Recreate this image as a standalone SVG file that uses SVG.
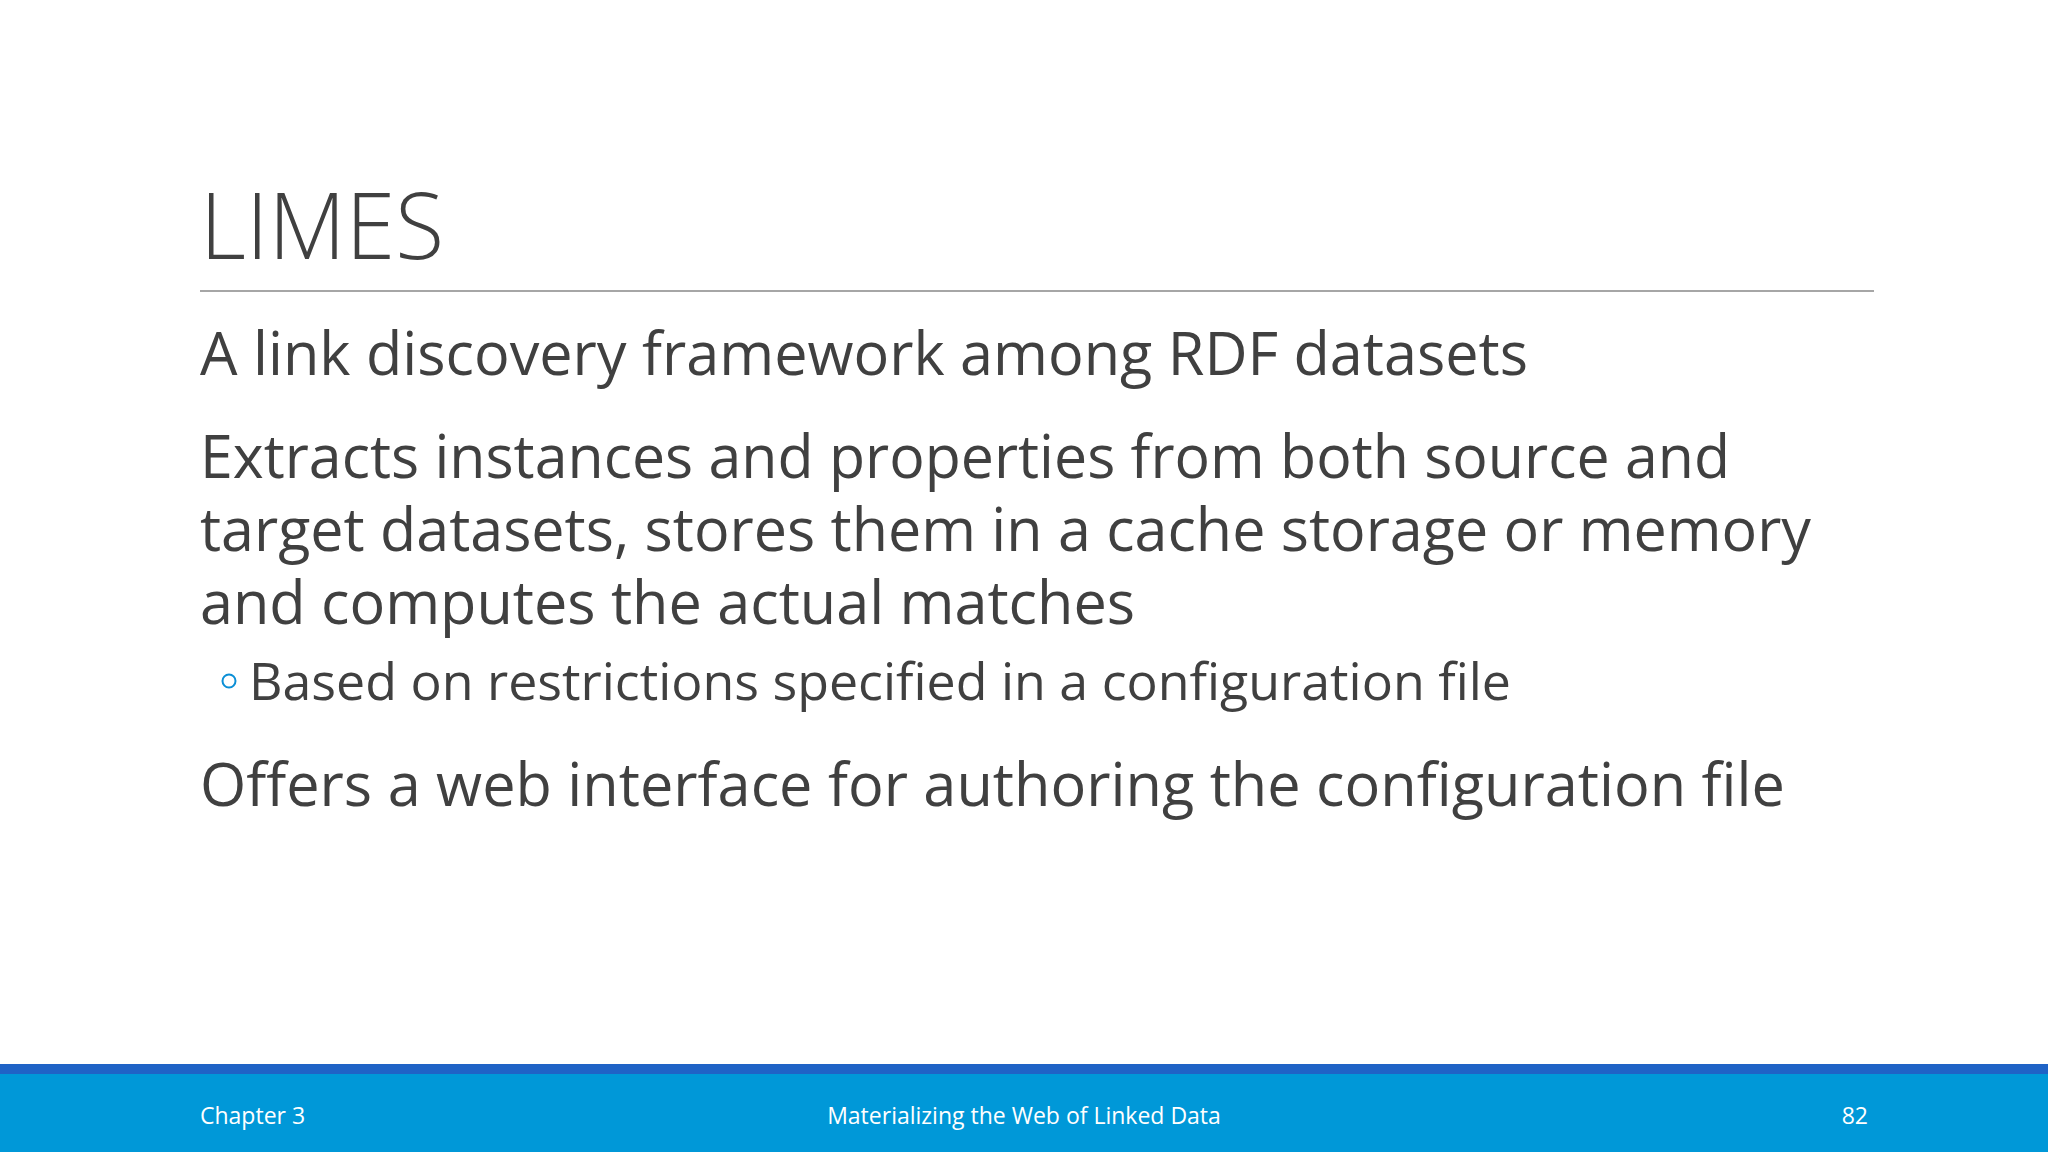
<svg xmlns="http://www.w3.org/2000/svg" width="2048" height="1152" viewBox="0 0 2048 1152">
<style>
.t{font-family:"Open Sans","Liberation Sans",sans-serif;fill:#404040}
.b{font-size:60px}
.f{font-family:"Open Sans","Liberation Sans",sans-serif;fill:#ffffff;font-size:23px}
</style>
<rect width="2048" height="1152" fill="#ffffff"/>
<g id="title">
<text class="t" x="200" y="259" font-size="92" font-weight="300" textLength="244" lengthAdjust="spacingAndGlyphs">LIMES</text>
<line x1="200" y1="291" x2="1874" y2="291" stroke="#a6a6a6" stroke-width="2"/>
</g>
<g id="body">
<text class="t b" x="200" y="375" textLength="1328" lengthAdjust="spacingAndGlyphs">A link discovery framework among RDF datasets</text>
<text class="t b" x="200" y="478" textLength="1530" lengthAdjust="spacingAndGlyphs">Extracts instances and properties from both source and</text>
<text class="t b" x="200" y="551" textLength="1611" lengthAdjust="spacingAndGlyphs">target datasets, stores them in a cache storage or memory</text>
<text class="t b" x="200" y="624" textLength="935" lengthAdjust="spacingAndGlyphs">and computes the actual matches</text>
<circle cx="229" cy="681" r="6.5" fill="none" stroke="#0b8fd6" stroke-width="2"/>
<text class="t" x="249" y="700" font-size="52" textLength="1262" lengthAdjust="spacingAndGlyphs">Based on restrictions specified in a configuration file</text>
<text class="t b" x="200" y="806" textLength="1585" lengthAdjust="spacingAndGlyphs">Offers a web interface for authoring the configuration file</text>
</g>
<g id="footer">
<rect x="0" y="1064" width="2048" height="10" fill="#1f63c6"/>
<rect x="0" y="1074" width="2048" height="78" fill="#0098d8"/>
<text class="f" x="200" y="1124">Chapter 3</text>
<text class="f" x="1024" y="1124" text-anchor="middle">Materializing the Web of Linked Data</text>
<text class="f" x="1868" y="1124" text-anchor="end">82</text>
</g>
</svg>
